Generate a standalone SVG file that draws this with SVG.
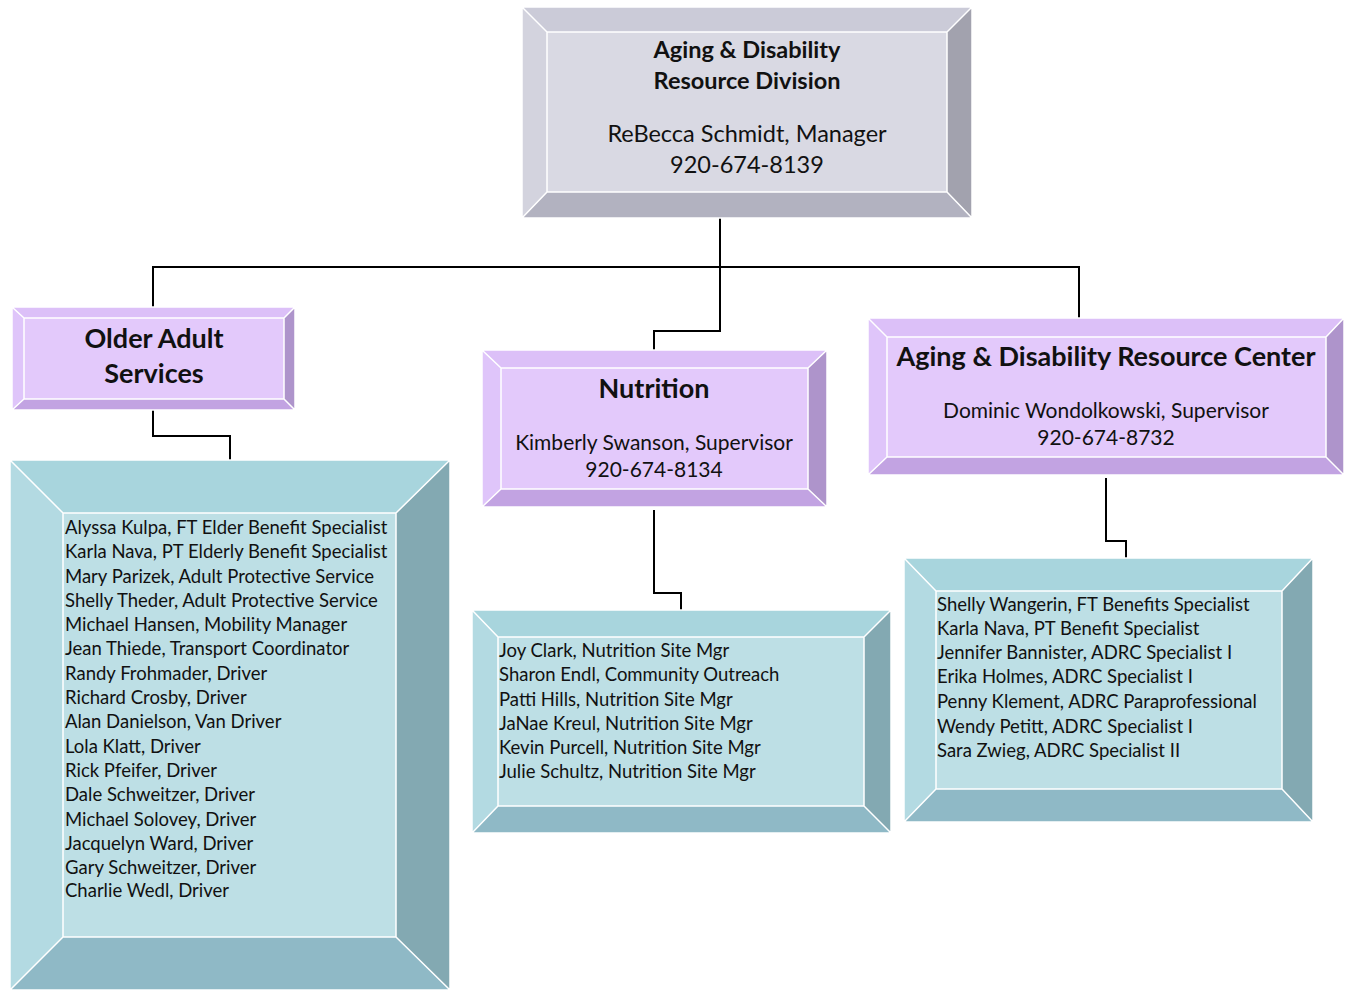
<svg xmlns="http://www.w3.org/2000/svg" width="1352" height="990" viewBox="0 0 1352 990">
<style>
.ln{stroke:#fff;stroke-width:1.5;fill:none}
.g .t{fill:#cbcbd8}.g .l{fill:#d3d3de}.g .r{fill:#a2a2ae}.g .b{fill:#b2b2c0}.g .f{fill:#d9d9e3}
.p .t{fill:#dcc0f8}.p .l{fill:#dfc5fa}.p .r{fill:#ae94cb}.p .b{fill:#c2a3e2}.p .f{fill:#e3c9fb}
.c .t{fill:#a8d5dd}.c .l{fill:#b3dae2}.c .r{fill:#83a9b2}.c .b{fill:#8fb9c6}.c .f{fill:#bddfe5}
text{font-family:Lato,"Open Sans",sans-serif;fill:#111}
.h{font-weight:bold;text-anchor:middle}
.m{text-anchor:middle}
.li{font-size:18.5px}
.conn{stroke:#000;stroke-width:2;fill:none}
</style>
<rect width="1352" height="990" fill="#fff"/>
<g id="connectors">
<path class="conn" d="M720,218 V331 H654 V350"/>
<path class="conn" d="M153,307 V267 H1079 V318"/>
<path class="conn" d="M153,410 V436 H230 V460"/>
<path class="conn" d="M654,510 V593 H681 V610"/>
<path class="conn" d="M1106,478 V541 H1126 V558"/>
</g>
<g id="division" class="g">
<polygon class="t" points="522,7 972,7 947,32 547,32"/>
<polygon class="l" points="522,7 547,32 547,192 522,218"/>
<polygon class="r" points="972,7 972,218 947,192 947,32"/>
<polygon class="b" points="522,218 547,192 947,192 972,218"/>
<rect class="f" x="547" y="32" width="400" height="160"/>
<path class="ln" d="M547,32 H947 V192 H547 Z M522,7 L547,32 M972,7 L947,32 M522,218 L547,192 M972,218 L947,192 M522,7 H972 V218 H522 Z"/>
<text class="h" x="747" y="58" font-size="23.5">Aging &amp; Disability</text>
<text class="h" x="747" y="89" font-size="23.5">Resource Division</text>
<text class="m" x="747" y="142" font-size="23.5">ReBecca Schmidt, Manager</text>
<text class="m" x="747" y="173" font-size="23.5">920-674-8139</text>
</g>
<g id="older-adult" class="p">
<polygon class="t" points="12,307 295,307 284,318 24,318"/>
<polygon class="l" points="12,307 24,318 24,399 12,410"/>
<polygon class="r" points="295,307 295,410 284,399 284,318"/>
<polygon class="b" points="12,410 24,399 284,399 295,410"/>
<rect class="f" x="24" y="318" width="260" height="81"/>
<path class="ln" d="M24,318 H284 V399 H24 Z M12,307 L24,318 M295,307 L284,318 M12,410 L24,399 M295,410 L284,399 M12,307 H295 V410 H12 Z"/>
<text class="h" x="154" y="348" font-size="27">Older Adult</text>
<text class="h" x="154" y="383" font-size="27">Services</text>
</g>
<g id="nutrition" class="p">
<polygon class="t" points="482,350 827,350 808,368 501,368"/>
<polygon class="l" points="482,350 501,368 501,489 482,507"/>
<polygon class="r" points="827,350 827,507 808,489 808,368"/>
<polygon class="b" points="482,507 501,489 808,489 827,507"/>
<rect class="f" x="501" y="368" width="307" height="121"/>
<path class="ln" d="M501,368 H808 V489 H501 Z M482,350 L501,368 M827,350 L808,368 M482,507 L501,489 M827,507 L808,489 M482,350 H827 V507 H482 Z"/>
<text class="h" x="654" y="398" font-size="27">Nutrition</text>
<text class="m" x="654" y="450" font-size="21">Kimberly Swanson, Supervisor</text>
<text class="m" x="654" y="477" font-size="21">920-674-8134</text>
</g>
<g id="adrc" class="p">
<polygon class="t" points="868,318 1344,318 1326,337 887,337"/>
<polygon class="l" points="868,318 887,337 887,457 868,475"/>
<polygon class="r" points="1344,318 1344,475 1326,457 1326,337"/>
<polygon class="b" points="868,475 887,457 1326,457 1344,475"/>
<rect class="f" x="887" y="337" width="439" height="120"/>
<path class="ln" d="M887,337 H1326 V457 H887 Z M868,318 L887,337 M1344,318 L1326,337 M868,475 L887,457 M1344,475 L1326,457 M868,318 H1344 V475 H868 Z"/>
<text class="h" x="1106" y="366" font-size="27">Aging &amp; Disability Resource Center</text>
<text class="m" x="1106" y="418" font-size="21">Dominic Wondolkowski, Supervisor</text>
<text class="m" x="1106" y="445" font-size="21">920-674-8732</text>
</g>
<g id="older-adult-staff" class="c">
<polygon class="t" points="10,460 450,460 396,513 63,513"/>
<polygon class="l" points="10,460 63,513 63,937 10,990"/>
<polygon class="r" points="450,460 450,990 396,937 396,513"/>
<polygon class="b" points="10,990 63,937 396,937 450,990"/>
<rect class="f" x="63" y="513" width="333" height="424"/>
<path class="ln" d="M63,513 H396 V937 H63 Z M10,460 L63,513 M450,460 L396,513 M10,990 L63,937 M450,990 L396,937 M10,460 H450 V990 H10 Z"/>
<text class="li" x="65" y="534">Alyssa Kulpa, FT Elder Benefit Specialist</text>
<text class="li" x="65" y="558">Karla Nava, PT Elderly Benefit Specialist</text>
<text class="li" x="65" y="583">Mary Parizek, Adult Protective Service</text>
<text class="li" x="65" y="607">Shelly Theder, Adult Protective Service</text>
<text class="li" x="65" y="631">Michael Hansen, Mobility Manager</text>
<text class="li" x="65" y="655">Jean Thiede, Transport Coordinator</text>
<text class="li" x="65" y="680">Randy Frohmader, Driver</text>
<text class="li" x="65" y="704">Richard Crosby, Driver</text>
<text class="li" x="65" y="728">Alan Danielson, Van Driver</text>
<text class="li" x="65" y="753">Lola Klatt, Driver</text>
<text class="li" x="65" y="777">Rick Pfeifer, Driver</text>
<text class="li" x="65" y="801">Dale Schweitzer, Driver</text>
<text class="li" x="65" y="826">Michael Solovey, Driver</text>
<text class="li" x="65" y="850">Jacquelyn Ward, Driver</text>
<text class="li" x="65" y="874">Gary Schweitzer, Driver</text>
<text class="li" x="65" y="897">Charlie Wedl, Driver</text>
</g>
<g id="nutrition-staff" class="c">
<polygon class="t" points="472,610 891,610 864,637 498,637"/>
<polygon class="l" points="472,610 498,637 498,806 472,833"/>
<polygon class="r" points="891,610 891,833 864,806 864,637"/>
<polygon class="b" points="472,833 498,806 864,806 891,833"/>
<rect class="f" x="498" y="637" width="366" height="169"/>
<path class="ln" d="M498,637 H864 V806 H498 Z M472,610 L498,637 M891,610 L864,637 M472,833 L498,806 M891,833 L864,806 M472,610 H891 V833 H472 Z"/>
<text class="li" x="499" y="657">Joy Clark, Nutrition Site Mgr</text>
<text class="li" x="499" y="681">Sharon Endl, Community Outreach</text>
<text class="li" x="499" y="706">Patti Hills, Nutrition Site Mgr</text>
<text class="li" x="499" y="730">JaNae Kreul, Nutrition Site Mgr</text>
<text class="li" x="499" y="754">Kevin Purcell, Nutrition Site Mgr</text>
<text class="li" x="499" y="778">Julie Schultz, Nutrition Site Mgr</text>
</g>
<g id="adrc-staff" class="c">
<polygon class="t" points="904,558 1313,558 1282,591 936,591"/>
<polygon class="l" points="904,558 936,591 936,789 904,822"/>
<polygon class="r" points="1313,558 1313,822 1282,789 1282,591"/>
<polygon class="b" points="904,822 936,789 1282,789 1313,822"/>
<rect class="f" x="936" y="591" width="346" height="198"/>
<path class="ln" d="M936,591 H1282 V789 H936 Z M904,558 L936,591 M1313,558 L1282,591 M904,822 L936,789 M1313,822 L1282,789 M904,558 H1313 V822 H904 Z"/>
<text class="li" x="937" y="611">Shelly Wangerin, FT Benefits Specialist</text>
<text class="li" x="937" y="635">Karla Nava, PT Benefit Specialist</text>
<text class="li" x="937" y="659">Jennifer Bannister, ADRC Specialist I</text>
<text class="li" x="937" y="683">Erika Holmes, ADRC Specialist I</text>
<text class="li" x="937" y="708">Penny Klement, ADRC Paraprofessional</text>
<text class="li" x="937" y="733">Wendy Petitt, ADRC Specialist I</text>
<text class="li" x="937" y="757">Sara Zwieg, ADRC Specialist II</text>
</g>
</svg>
